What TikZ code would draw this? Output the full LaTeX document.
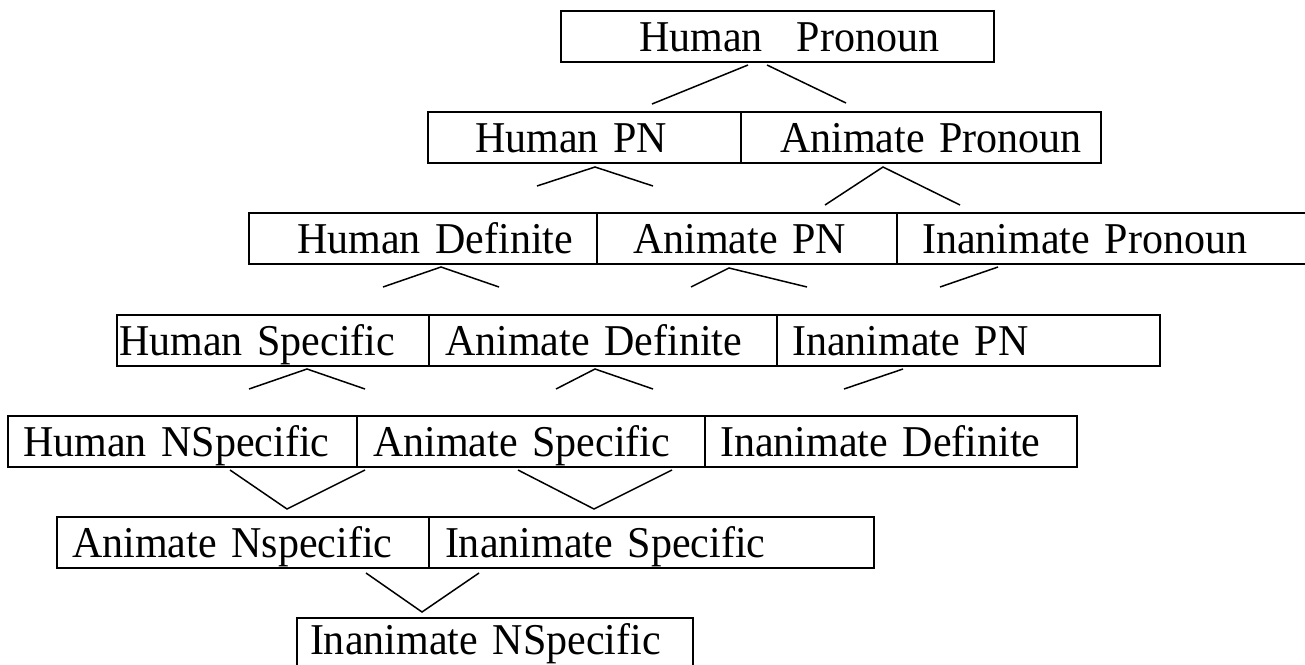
\documentclass[tikz,border=0pt]{standalone}
\usepackage{fontspec}
\setmainfont[FakeStretch=0.955]{Liberation Serif}
\begin{document}
\begin{tikzpicture}[x=1pt,y=-1pt,
  cell/.style={draw, line width=1.7pt, inner xsep=0pt, inner ysep=0pt, outer sep=0pt,
    text width=#1, align=left, minimum height=51pt, text height=29pt, text depth=0pt,
    anchor=north west, font=\fontsize{44}{50}\selectfont},
  link/.style={line width=1.5pt}]
\useasboundingbox (0,0) rectangle (1305,664);
% row 1
\node[cell=433pt] (hpro) at (561,11) {\hspace*{78pt}Human\hspace{34pt}Pronoun};
% row 2
\node[cell=313pt] (hpn) at (428,112) {\hspace*{47pt}Human PN};
\node[cell=360pt] (apro) at (741,112) {\hspace*{39pt}Animate Pronoun};
% row 3
\node[cell=348pt] (hdef) at (249,213) {\hspace*{48pt}Human Definite};
\node[cell=300pt] (apn) at (597,213) {\hspace*{36pt}Animate PN};
\node[cell=430pt] (ipro) at (897,213) {\hspace*{25pt}Inanimate Pronoun};
% row 4
\node[cell=312pt] (hspec) at (117,315) {\hspace*{2pt}Human Specific};
\node[cell=348pt] (adef) at (429,315) {\hspace*{16pt}Animate Definite};
\node[cell=383pt] (ipn) at (777,315) {\hspace*{15pt}Inanimate PN};
% row 5
\node[cell=349pt] (hns) at (8,416) {\hspace*{15pt}Human NSpecific};
\node[cell=348pt] (aspec) at (357,416) {\hspace*{16pt}Animate Specific};
\node[cell=372pt] (idef) at (705,416) {\hspace*{15pt}Inanimate Definite};
% row 6
\node[cell=372pt] (ans) at (57,517) {\hspace*{15pt}Animate Nspecific};
\node[cell=445pt] (ispec) at (429,517) {\hspace*{16pt}Inanimate Specific};
% row 7
\node[cell=396pt, text depth=8pt] (ins) at (297,618) {\hspace*{13pt}Inanimate NSpecific};

% connector points
\coordinate (a1) at (748,65); \coordinate (a2) at (652,104);
\coordinate (a3) at (767,65); \coordinate (a4) at (846,103);
\coordinate (b1) at (537,186); \coordinate (b2) at (595,167); \coordinate (b3) at (653,186);
\coordinate (c1) at (825,205); \coordinate (c2) at (883,167); \coordinate (c3) at (960,205);
\coordinate (d1) at (383,287); \coordinate (d2) at (441,267); \coordinate (d3) at (499,287);
\coordinate (e1) at (691,287); \coordinate (e2) at (729,268); \coordinate (e3) at (807,287);
\coordinate (f1) at (940,287); \coordinate (f2) at (998,267);
\coordinate (g1) at (249,389); \coordinate (g2) at (307,369); \coordinate (g3) at (365,389);
\coordinate (h1) at (556,389); \coordinate (h2) at (595,369); \coordinate (h3) at (653,389);
\coordinate (i1) at (844,389); \coordinate (i2) at (903,369);
\coordinate (j1) at (230,470); \coordinate (j2) at (287,509); \coordinate (j3) at (365,470);
\coordinate (k1) at (518,470); \coordinate (k2) at (594,509); \coordinate (k3) at (672,470);
\coordinate (l1) at (366,573); \coordinate (l2) at (422,612); \coordinate (l3) at (479,573);

\draw[link] (a1) -- (a2);
\draw[link] (a3) -- (a4);
\draw[link] (b1) -- (b2) -- (b3);
\draw[link] (c1) -- (c2) -- (c3);
\draw[link] (d1) -- (d2) -- (d3);
\draw[link] (e1) -- (e2) -- (e3);
\draw[link] (f1) -- (f2);
\draw[link] (g1) -- (g2) -- (g3);
\draw[link] (h1) -- (h2) -- (h3);
\draw[link] (i1) -- (i2);
\draw[link] (j1) -- (j2) -- (j3);
\draw[link] (k1) -- (k2) -- (k3);
\draw[link] (l1) -- (l2) -- (l3);
\end{tikzpicture}
\end{document}
